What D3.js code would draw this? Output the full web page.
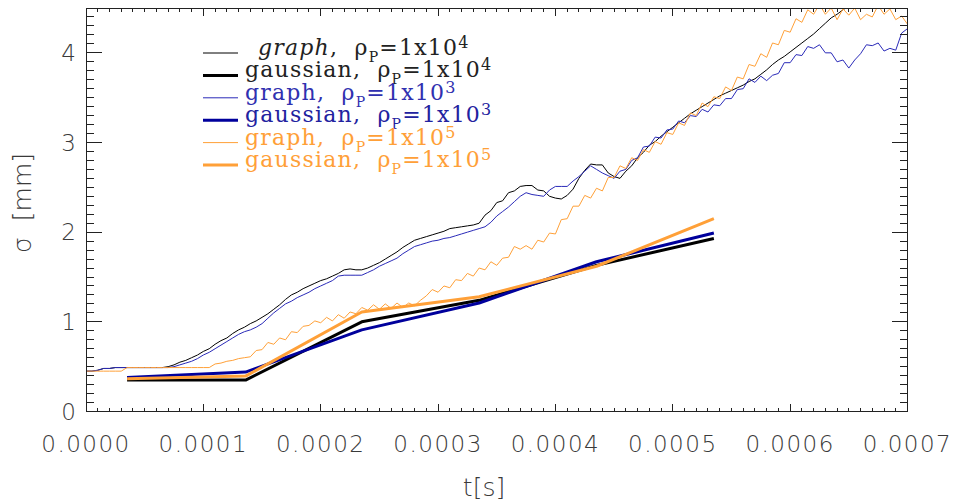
<!DOCTYPE html>
<html><head><meta charset="utf-8">
<script src="https://cdn.jsdelivr.net/npm/d3@7"></script>
<style>body{margin:0;background:#fff}svg{display:block}</style>
</head><body>
<svg id="c" width="960" height="502"></svg>
<script>
// ---- data ----
const xTicks = [0, 0.0001, 0.0002, 0.0003, 0.0004, 0.0005, 0.0006, 0.0007];
const xTickLabels = ["0.0000","0.0001","0.0002","0.0003","0.0004","0.0005","0.0006","0.0007"];
const yTicks = [0, 1, 2, 3, 4];
const yTickLabels = ["0","1","2","3","4"];
const graphStep = 5e-6; // sampling interval of graph series [s]
const graphTimes = d3.range(141).map(i => i * graphStep);
const graph1e4 = [
0.45,0.45,0.46,0.48,0.48,0.49,0.49,0.49,0.49,0.49,
0.49,0.49,0.49,0.49,0.50,0.52,0.55,0.57,0.60,0.63,
0.67,0.70,0.75,0.79,0.82,0.87,0.91,0.94,0.98,1.01,
1.05,1.09,1.14,1.19,1.25,1.30,1.33,1.37,1.40,1.43,
1.46,1.48,1.51,1.54,1.58,1.59,1.58,1.58,1.60,1.63,
1.66,1.70,1.74,1.78,1.83,1.87,1.91,1.93,1.95,1.97,
1.99,2.01,2.04,2.05,2.06,2.07,2.08,2.10,2.19,2.24,
2.33,2.35,2.44,2.46,2.51,2.52,2.52,2.47,2.46,2.40,
2.38,2.37,2.41,2.48,2.60,2.69,2.76,2.75,2.75,2.66,
2.62,2.60,2.68,2.74,2.83,2.89,2.97,3.01,3.07,3.12,
3.17,3.22,3.27,3.32,3.36,3.40,3.44,3.48,3.52,3.55,
3.58,3.61,3.64,3.68,3.71,3.76,3.81,3.87,3.92,3.96,
4.01,4.06,4.11,4.16,4.21,4.27,4.33,4.39,4.43,4.48,
4.52,4.56,4.61,4.65,4.69,4.73,4.77,4.81,4.85,4.89,
4.93];
const graph1e3 = [
0.45,0.45,0.46,0.48,0.48,0.49,0.49,0.49,0.49,0.49,
0.49,0.49,0.49,0.49,0.49,0.50,0.52,0.54,0.56,0.59,
0.63,0.66,0.70,0.74,0.78,0.82,0.86,0.89,0.91,0.94,
0.98,1.04,1.10,1.15,1.20,1.23,1.27,1.30,1.33,1.37,
1.40,1.43,1.46,1.51,1.52,1.52,1.52,1.52,1.55,1.58,
1.62,1.65,1.68,1.71,1.76,1.80,1.84,1.86,1.88,1.90,
1.91,1.93,1.94,1.96,1.98,2.00,2.02,2.04,2.06,2.11,
2.18,2.23,2.28,2.34,2.40,2.44,2.42,2.41,2.40,2.47,
2.51,2.51,2.51,2.57,2.62,2.68,2.74,2.70,2.66,2.63,
2.60,2.68,2.70,2.80,2.83,2.95,2.96,3.06,3.05,3.14,
3.15,3.24,3.22,3.30,3.29,3.37,3.34,3.42,3.41,3.49,
3.49,3.59,3.60,3.71,3.67,3.74,3.69,3.75,3.77,3.89,
3.89,3.98,3.97,4.07,4.05,4.09,4.00,4.00,3.90,3.92,
3.83,3.92,3.99,4.09,4.08,4.11,4.02,4.05,4.03,4.22,
4.27];
const graph1e5 = [
0.45,0.45,0.45,0.45,0.45,0.45,0.45,0.49,0.49,0.49,
0.49,0.49,0.49,0.49,0.49,0.49,0.49,0.49,0.49,0.49,
0.49,0.49,0.53,0.54,0.56,0.57,0.59,0.60,0.61,0.68,
0.69,0.77,0.75,0.82,0.80,0.89,0.88,0.95,0.96,1.01,
0.99,1.05,1.01,1.08,1.04,1.11,1.09,1.16,1.13,1.19,
1.14,1.20,1.15,1.21,1.16,1.21,1.18,1.24,1.29,1.36,
1.33,1.40,1.38,1.47,1.46,1.54,1.51,1.60,1.58,1.67,
1.63,1.71,1.72,1.84,1.81,1.85,1.81,1.91,1.89,1.99,
1.98,2.14,2.15,2.29,2.29,2.41,2.38,2.49,2.46,2.61,
2.61,2.74,2.71,2.83,2.80,2.92,2.89,3.01,2.98,3.11,
3.09,3.22,3.19,3.33,3.30,3.44,3.40,3.51,3.49,3.62,
3.58,3.73,3.71,3.87,3.85,3.99,3.95,4.11,4.09,4.25,
4.23,4.38,4.34,4.48,4.43,4.54,4.43,4.50,4.37,4.49,
4.42,4.50,4.37,4.43,4.40,4.53,4.43,4.49,4.37,4.41,
4.32];
const gaussTimes = [0.35e-4, 1.36e-4, 2.35e-4, 3.35e-4, 4.35e-4, 5.35e-4];
const gauss1e4 = [0.35, 0.35, 1.00, 1.24, 1.63, 1.93];
const gauss1e3 = [0.38, 0.44, 0.91, 1.21, 1.67, 1.99];
const gauss1e5 = [0.365, 0.395, 1.11, 1.28, 1.62, 2.15];
const legendNames = ["graph","gaussian","graph","gaussian","graph","gaussian"];
const legendExp = ["4","4","3","3","5","5"];

// ---- layout ----
const svg = d3.select("#c");
const L = 86, R = 907.5, T = 8, B = 411.5;
const x = d3.scaleLinear().domain([0, 0.0007]).range([L, R]);
const y = d3.scaleLinear().domain([0, 4.5]).range([B, T]);
const BLACK = "#000", BLUE_T = "#2a2ab8", BLUE_G = "#00009c", ORANGE = "#ffa038";

svg.append("defs").append("clipPath").attr("id","clip")
  .append("rect").attr("x",L).attr("y",T).attr("width",R-L).attr("height",B-T);

const plot = svg.append("g").attr("clip-path","url(#clip)");
const line = d3.line().x(d=>x(d[0])).y(d=>y(d[1]));
const series = [
  {t:graphTimes, v:graph1e4, c:BLACK, w:1},
  {t:gaussTimes, v:gauss1e4, c:BLACK, w:3},
  {t:graphTimes, v:graph1e3, c:BLUE_T, w:1},
  {t:gaussTimes, v:gauss1e3, c:BLUE_G, w:3},
  {t:graphTimes, v:graph1e5, c:ORANGE, w:1},
  {t:gaussTimes, v:gauss1e5, c:ORANGE, w:3}
];
series.forEach(s => {
  plot.append("path").attr("d", line(s.t.map((t,i)=>[t, s.v[i]])))
    .attr("fill","none").attr("stroke",s.c).attr("stroke-width",s.w)
    .attr("stroke-linejoin","round");
});

// ---- axes (IDL style, ticks inward on all sides) ----
const axColor = "#222";
const ax = svg.append("g").attr("stroke",axColor).attr("stroke-width",1).attr("shape-rendering","crispEdges");
ax.append("rect").attr("x",L).attr("y",T).attr("width",R-L).attr("height",B-T).attr("fill","none");
const xMinor = d3.range(0, 71).map(i => i*1e-5);
xMinor.forEach((t,i) => {
  const len = (i % 10 === 0) ? 8 : 4;
  ax.append("line").attr("x1",x(t)).attr("x2",x(t)).attr("y1",B).attr("y2",B-len);
  ax.append("line").attr("x1",x(t)).attr("x2",x(t)).attr("y1",T).attr("y2",T+len);
});
const yMinor = d3.range(0, 46).map(i => i*0.1);
yMinor.forEach((v,i) => {
  const len = (i % 10 === 0) ? 16 : 8;
  ax.append("line").attr("y1",y(v)).attr("y2",y(v)).attr("x1",L).attr("x2",L+len);
  ax.append("line").attr("y1",y(v)).attr("y2",y(v)).attr("x1",R).attr("x2",R-len);
});

const tickFont = "'DejaVu Sans', sans-serif";
const tl = svg.append("g").attr("fill","#3a3a3a").attr("font-family",tickFont).attr("font-weight",200).attr("font-size",23);
xTicks.forEach((t,i) => {
  tl.append("text").attr("x",x(t)).attr("y",452).attr("text-anchor","middle")
    .attr("letter-spacing",1.5).text(xTickLabels[i]);
});
yTicks.forEach((v,i) => {
  tl.append("text").attr("x",76).attr("y",y(v)).attr("dy","0.36em").attr("text-anchor","end").text(yTickLabels[i]);
});
tl.append("text").attr("x",484).attr("y",496).attr("text-anchor","middle").attr("font-size",25).text("t[s]");
tl.append("text").attr("transform","translate(31,203) rotate(-90)").attr("text-anchor","middle")
  .attr("font-size",25).attr("xml:space","preserve").text("σ  [mm]");

// ---- legend ----
const legColors = [BLACK, BLACK, BLUE_T, BLUE_G, ORANGE, ORANGE];
const txtColors = ["#222","#222","#3030b0","#22229f","#ffa038","#ffa038"];
const lg = svg.append("g").attr("font-family","'DejaVu Serif', serif").attr("font-size",22)
  .attr("letter-spacing",1.2);
legendNames.forEach((name,i) => {
  const ly = 53 + i*22.4;
  lg.append("line").attr("x1",203).attr("x2",238).attr("y1",ly).attr("y2",ly)
    .attr("stroke",legColors[i]).attr("stroke-width", i%2 ? 3 : 1);
  const tx = lg.append("text").attr("x", i===0 ? 258 : 245).attr("y", ly+2).attr("fill",txtColors[i]);
  tx.append("tspan").attr("font-style", i===0 ? "italic" : "normal").text(name);
  tx.append("tspan").attr("xml:space","preserve").text(",  ρ");
  tx.append("tspan").attr("dy",7).attr("font-size",14).text("P");
  tx.append("tspan").attr("dy",-7).text("=1x10");
  tx.append("tspan").attr("dy",-7).attr("font-size",16).text(legendExp[i]);
});
</script>
</body></html>
